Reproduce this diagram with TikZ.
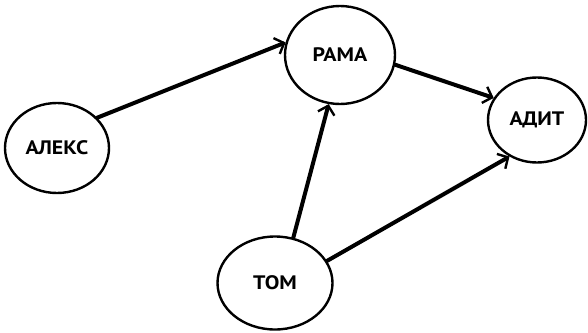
\documentclass[tikz,border=0pt]{standalone}
\usepackage{fontspec}
\setmainfont{PT Sans}
\newfontfamily\lblfont[FakeStretch=1.12]{PT Sans}
\usetikzlibrary{shapes.geometric,arrows.meta}
\begin{document}
\begin{tikzpicture}[x=1pt,y=-1pt,
  person/.style={ellipse, draw, line width=2.4pt, inner sep=0pt,
    font=\lblfont\fontsize{19.5}{19.5}\selectfont\bfseries},
  link/.style={line width=4pt, line cap=round,
    -{Straight Barb[length=8pt,width=17pt,line width=2.4pt]}}]
\useasboundingbox (0,0) rectangle (588,332);
\node[person, minimum width=104pt, minimum height=90pt] (alex) at (57,148) {АЛЕКС};
\node[person, minimum width=110pt, minimum height=98pt] (rama) at (340,55) {РАМА};
\node[person, minimum width=98pt, minimum height=85pt] (adit) at (537,120) {АДИТ};
\node[person, minimum width=115pt, minimum height=93pt] (tom) at (275,283) {ТОМ};
\draw[link] (alex.37) -- (rama.167);
\draw[link] (rama.-10) -- (adit.153);
\draw[link] (tom.68) -- (rama.257);
\draw[link] (tom.23) -- (adit.233);
\end{tikzpicture}
\end{document}
